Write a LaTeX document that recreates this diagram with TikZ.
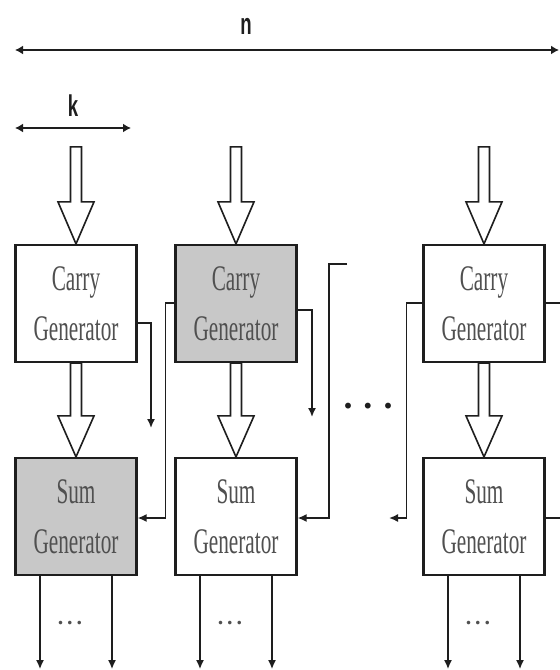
\documentclass[tikz,border=0pt]{standalone}
\usepackage{fontspec}
\setmainfont{Liberation Serif}
\newfontfamily\labelfont{Liberation Sans}
\usepackage{graphicx}
\usetikzlibrary{arrows.meta}
\definecolor{boxgray}{HTML}{C8C8C8}
\definecolor{txtgray}{HTML}{505050}
\definecolor{ink}{HTML}{1E1E1E}
\newcommand\narrowtxt[1]{\scalebox{0.59}[1]{#1}}
\newcommand\labtxt[1]{\scalebox{0.62}[1]{#1}}
\tikzset{
  genbox/.style={draw=ink, line width=2.2bp, fill=white, minimum width=121bp, minimum height=117bp,
    inner sep=0pt, align=center, text=txtgray, font=\fontsize{36bp}{50bp}\selectfont},
  graybox/.style={genbox, fill=boxgray},
  hollowarrow/.style={draw=ink, line width=1.6bp, fill=white, line join=miter},
  wire/.style={draw=ink, line width=1.6bp},
  wirearrow/.style={wire, -{Latex[length=9bp,width=8bp]}},
  dimarrow/.style={draw=ink, line width=2.4bp, {Latex[length=8bp,width=9bp]}-{Latex[length=8bp,width=9bp]}},
  dimlabel/.style={font=\labelfont\bfseries\fontsize{30bp}{30bp}\selectfont, text=ink, inner sep=0pt},
  smalldots/.style={font=\bfseries\fontsize{22bp}{22bp}\selectfont, text=txtgray, inner sep=0pt},
  bigdots/.style={font=\bfseries\fontsize{36bp}{36bp}\selectfont, text=ink, inner sep=0pt}
}
\newcommand\hollowtop[1]{%
  \draw[hollowarrow, shift={(#1)}] (-5.5,-97) -- (5.5,-97) -- (5.5,-42) -- (18,-42) -- (0,0)
    -- (-18,-42) -- (-5.5,-42) -- cycle;}
\newcommand\hollowmid[2]{%
  \draw[hollowarrow] (#1.south) ++(-5.5,0) -- ++(11,0) |- ([xshift=5.5bp,yshift=41bp]#2.north)
    -- ++(12.5,0) -- (#2.north) -- ([xshift=-18bp,yshift=41bp]#2.north) -- ++(12.5,0) -- cycle;}
\begin{document}
\begin{tikzpicture}[x=1bp, y=-1bp]
\useasboundingbox (0,0) rectangle (560,670);
\fill[white] (0,0) rectangle (560,670);

% dimension arrows
\coordinate (nL) at (15,50);
\coordinate (nR) at (559,50);
\draw[dimarrow] (nL) -- (nR);
\node[dimlabel] (nlab) at (246,26) {\labtxt{n}};
\coordinate (kL) at (15,128);
\coordinate (kR) at (131,128);
\draw[dimarrow] (kL) -- (kR);
\node[dimlabel] (klab) at (73,106) {\labtxt{k}};

% blocks
\node[genbox]  (c1) at (76,303.5)  {\narrowtxt{Carry}\\\narrowtxt{Generator}};
\node[graybox] (s1) at (76,516.5)  {\narrowtxt{Sum}\\\narrowtxt{Generator}};
\node[graybox] (c2) at (236,303.5) {\narrowtxt{Carry}\\\narrowtxt{Generator}};
\node[genbox]  (s2) at (236,516.5) {\narrowtxt{Sum}\\\narrowtxt{Generator}};
\node[genbox]  (c3) at (484,303.5) {\narrowtxt{Carry}\\\narrowtxt{Generator}};
\node[genbox]  (s3) at (484,516.5) {\narrowtxt{Sum}\\\narrowtxt{Generator}};

% hollow input arrows
\hollowtop{c1.north}
\hollowtop{c2.north}
\hollowtop{c3.north}
% hollow arrows carry -> sum
\hollowmid{c1}{s1}
\hollowmid{c2}{s2}
\hollowmid{c3}{s3}

% carry wires
\coordinate (t1) at (151,428);
\draw[wirearrow] ([yshift=-19.5bp]c1.east) -| (t1);
\draw[wirearrow] ([yshift=0.5bp]c2.west) -- ++(-9,0) |- ([yshift=-1.5bp]s1.east);
\coordinate (t2) at (312,417);
\draw[wirearrow] ([yshift=-6.5bp]c2.east) -| (t2);
\coordinate (w0) at (347,264);
\draw[wirearrow] (w0) -- ++(-18,0) |- ([yshift=-1.5bp]s2.east);
\coordinate (t3) at (389,518);
\draw[wirearrow] ([yshift=0.5bp]c3.west) -- ++(-16,0) |- (t3);
\coordinate (r1) at (560,303);
\draw[wire] ([yshift=0.5bp]c3.east) -- (r1);
\coordinate (r2) at (560,518);
\draw[wire] ([yshift=-1.5bp]s3.east) -- (r2);

\node[bigdots] (mdots) at (368,406) {.\hspace{11bp}.\hspace{11bp}.};

% sum outputs
\foreach \s in {s1,s2,s3}{
  \coordinate (\s a) at ([xshift=-36bp,yshift=-93bp]\s.south);
  \coordinate (\s b) at ([xshift=36bp,yshift=-93bp]\s.south);
  \draw[wirearrow] ([xshift=-36bp]\s.south) -- (\s a);
  \draw[wirearrow] ([xshift=36bp]\s.south) -- (\s b);
  \node[smalldots] (\s dots) at ([xshift=-6bp,yshift=-47bp]\s.south) {.\hspace{4bp}.\hspace{4bp}.};
}
\end{tikzpicture}
\end{document}
